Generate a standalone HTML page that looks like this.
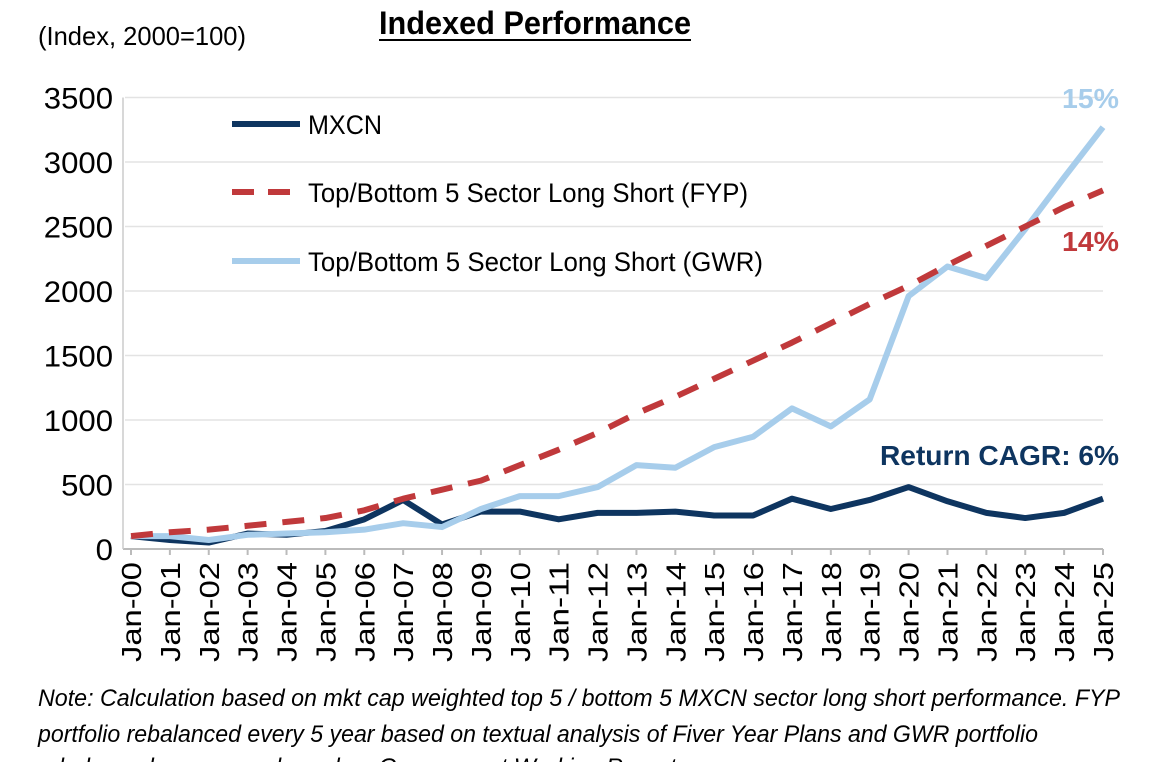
<!DOCTYPE html>
<html><head><meta charset="utf-8"><style>
body{margin:0;background:#fff;width:1170px;height:762px;overflow:hidden;font-family:"Liberation Sans",Arial,sans-serif}
svg{display:block}
</style></head><body>
<svg width="1170" height="762">
<text x="379" y="34" font-size="32" font-weight="bold" textLength="312" lengthAdjust="spacingAndGlyphs">Indexed Performance</text>
<line x1="379" y1="40" x2="691" y2="40" stroke="#000" stroke-width="2"/>
<text x="38" y="45" font-size="26" textLength="208" lengthAdjust="spacingAndGlyphs">(Index, 2000=100)</text>
<g id="grid"></g><g id="yticks"></g><g id="xticks"></g><g id="series"></g>
<g>
<line x1="232" y1="124" x2="300" y2="124" stroke="#0e3560" stroke-width="6"/>
<text x="308" y="134" font-size="27" textLength="74" lengthAdjust="spacingAndGlyphs">MXCN</text>
<line x1="232" y1="192" x2="300" y2="192" stroke="#c0393b" stroke-width="6" stroke-dasharray="22,14"/>
<text x="308" y="202" font-size="27" textLength="440" lengthAdjust="spacingAndGlyphs">Top/Bottom 5 Sector Long Short (FYP)</text>
<line x1="232" y1="261" x2="300" y2="261" stroke="#a7cdeb" stroke-width="6"/>
<text x="308" y="271" font-size="27" textLength="455" lengthAdjust="spacingAndGlyphs">Top/Bottom 5 Sector Long Short (GWR)</text>
</g>
<text x="1062" y="108" font-size="28" font-weight="bold" fill="#a7cdeb" textLength="57" lengthAdjust="spacingAndGlyphs">15%</text>
<text x="1062" y="251" font-size="28" font-weight="bold" fill="#c0393b" textLength="57" lengthAdjust="spacingAndGlyphs">14%</text>
<text x="880" y="465" font-size="28" font-weight="bold" fill="#0e3560" textLength="239" lengthAdjust="spacingAndGlyphs">Return CAGR: 6%</text>
<text x="38" y="706" font-size="24" font-style="italic" textLength="1082" lengthAdjust="spacingAndGlyphs">Note: Calculation based on mkt cap weighted top 5 / bottom 5 MXCN sector long short performance. FYP</text>
<text x="38" y="742" font-size="24" font-style="italic" textLength="1000" lengthAdjust="spacingAndGlyphs">portfolio rebalanced every 5 year based on textual analysis of Fiver Year Plans and GWR portfolio</text>
<text x="38" y="775" font-size="24" font-style="italic" textLength="650" lengthAdjust="spacingAndGlyphs">rebalanced every year based on Government Working Reports</text>
</svg>
<script>
const years=["00","01","02","03","04","05","06","07","08","09","10","11","12","13","14","15","16","17","18","19","20","21","22","23","24","25"];
const yTicks=[0,500,1000,1500,2000,2500,3000,3500];
const mxcn=[100,70,50,120,110,140,230,380,190,290,290,230,280,280,290,260,260,390,310,380,480,370,280,240,280,390];
const fyp=[100,130,150,180,210,240,300,390,460,530,650,770,900,1050,1180,1320,1460,1600,1750,1900,2040,2200,2350,2500,2650,2780];
const gwr=[100,100,70,110,120,130,150,200,170,310,410,410,480,650,630,790,870,1090,950,1160,1960,2190,2100,2480,2880,3270];
const NS="http://www.w3.org/2000/svg";
const X0=131,X1=1103,Y0=549,YT=97.5;
const xs=i=>X0+(X1-X0)*i/(years.length-1);
const ys=v=>Y0-(Y0-YT)*v/3500;
function mk(t,a,p){const e=document.createElementNS(NS,t);for(const k in a)e.setAttribute(k,a[k]);document.getElementById(p).appendChild(e);return e;}
yTicks.forEach(v=>{
 if(v>0){const g=mk('line',{x1:X0-6,x2:X1,y1:ys(v),y2:ys(v),stroke:'#e3e3e3','stroke-width':1.5},'grid');
 
 }
 const s=String(v);
 const t=mk('text',{x:113-s.length*17.3,y:ys(v)+11,'font-size':30,textLength:s.length*17.3,lengthAdjust:'spacingAndGlyphs'},'yticks');t.textContent=s;
 
 
});
const ax=mk('line',{x1:X0-8,x2:X1,y1:Y0,y2:Y0,stroke:'#bbb','stroke-width':2},'grid');


const yax=mk('line',{x1:X0-8,x2:X0-8,y1:YT,y2:Y0,stroke:'#ccc','stroke-width':1.5},'grid');


years.forEach((y,i)=>{
 const tk=mk('line',{x1:xs(i),x2:xs(i),y1:Y0,y2:Y0+6,stroke:'#bbb','stroke-width':2},'xticks');
 
 
 const t=mk('text',{x:-103,y:0,'font-size':28,textLength:100,lengthAdjust:'spacingAndGlyphs',transform:`translate(${xs(i)+10},${Y0+10}) rotate(-90)`},'xticks');
 t.textContent='Jan-'+y;
 
 
});
function line(d,col,name,dash){
 const p=mk('polyline',{points:d.map((v,i)=>xs(i)+','+ys(v)).join(' '),fill:'none',stroke:col,'stroke-width':6,'stroke-linejoin':'round'},'series');
 if(dash)p.setAttribute('stroke-dasharray',dash);
 
 
}
line(mxcn,'#0e3560','mxcn-line');
line(gwr,'#a7cdeb','gwr-line');
line(fyp,'#c0393b','fyp-line','22,16');
</script>
</body></html>
